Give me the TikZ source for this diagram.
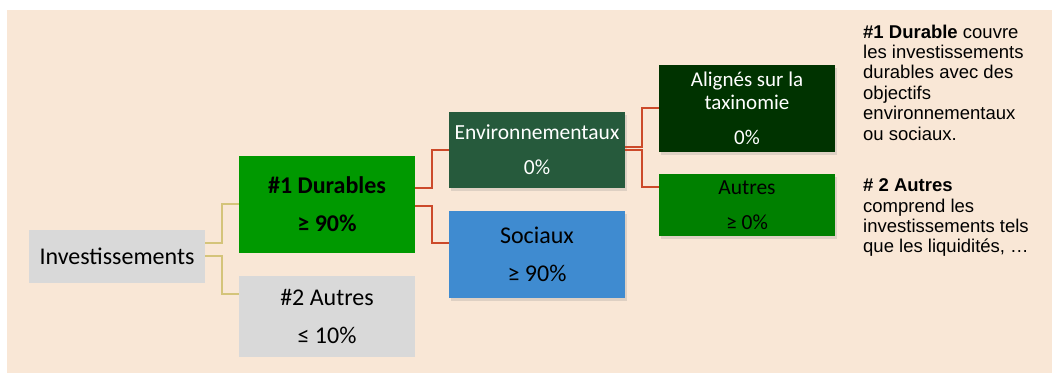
\documentclass[tikz,border=0pt]{standalone}
\usepackage{fontspec}
\setmainfont{Carlito}
\newfontfamily\notefont{Liberation Sans}
\usepackage{tikz}
\usetikzlibrary{shadows}

\definecolor{bgbeige}{HTML}{F9E7D6}
\definecolor{boxgrey}{HTML}{D9D9D9}
\definecolor{durgreen}{HTML}{009900}
\definecolor{envgreen}{HTML}{265A3C}
\definecolor{socblue}{HTML}{3F8BD0}
\definecolor{taxgreen}{HTML}{003300}
\definecolor{othgreen}{HTML}{008000}
\definecolor{linkgold}{HTML}{D4C47A}
\definecolor{linkred}{HTML}{CC4A2A}

\begin{document}
\begin{tikzpicture}[x=1pt,y=1pt,node distance=210pt,
      box/.style={rectangle,minimum width=176pt,align=center,inner sep=2pt},
      big/.style={font=\fontsize{24}{38}\selectfont},
      small/.style={font=\fontsize{21.5}{35}\selectfont},
      shade/.style={drop shadow={opacity=0.22,shadow xshift=2pt,shadow yshift=-3pt}},
      goldlink/.style={draw=linkgold,line width=2pt},
      redlink/.style={draw=linkred,line width=2pt},
      note/.style={anchor=north west,inner sep=0,align=left,font=\notefont\fontsize{18.5}{20.4}\selectfont}]
    \useasboundingbox (0,0) rectangle (1058,-374);
    \fill[bgbeige] (7,-10) rectangle (1052,-373);
    \node[box, big, fill=boxgrey, minimum height=53pt] (inv) at (117,-256.5) {Investissements};
    \node[box, big, fill=durgreen, minimum height=97pt] (dur) [right of=inv, yshift=52pt]
      {\textbf{\#1 Durables}\\\textbf{≥ 90\%}};
    \node[box, big, fill=boxgrey, minimum height=81pt] (aut2) [right of=inv, yshift=-60pt]
      {\#2 Autres\\≤ 10\%};
    \node[box, small, shade, fill=envgreen, text=white, minimum height=76pt] (env) [right of=dur, yshift=54.5pt]
      {Environnementaux\\0\%};
    \node[box, big, shade, fill=socblue, minimum height=87pt] (soc) [right of=dur, yshift=-50pt]
      {Sociaux\\≥ 90\%};
    \node[box, shade, fill=taxgreen, text=white, minimum height=87pt,
      font=\fontsize{21}{23}\selectfont] (ali) [right of=env, yshift=41.5pt]
      {Alignés sur la\\taxinomie\\[12pt]0\%};
    \node[box, small, shade, fill=othgreen, minimum height=62pt] (aut) [right of=env, yshift=-55pt]
      {Autres\\≥ 0\%};
    % liens
    \draw[goldlink] ([yshift=13.5pt]inv.east) -- ++(17,0) |- (dur.west);
    \draw[goldlink] (inv.east) -- ++(17,0) |- ([yshift=22.5pt]aut2.west);
    \draw[redlink] ([yshift=16.5pt]dur.east) -- ++(17,0) |- (env.west);
    \draw[redlink] ([yshift=-1.5pt]dur.east) -- ++(17,0) |- ([yshift=11.5pt]soc.west);
    \draw[redlink] ([yshift=3pt]env.east) -- ++(17,0) |- (ali.west);
    \draw[redlink] (env.east) -- ++(17,0) |- ([yshift=18pt]aut.west);
    % notes
    \node[note] (note1) at (863,-24.5)
      {\textbf{\#1 Durable} couvre\\les investissements\\durables avec des\\objectifs\\environnementaux\\ou sociaux.};
    \node[note] (note2) at (863,-178.5)
      {\textbf{\# 2 Autres}\\comprend les\\investissements tels\\que les liquidités, …};
\end{tikzpicture}
\end{document}
